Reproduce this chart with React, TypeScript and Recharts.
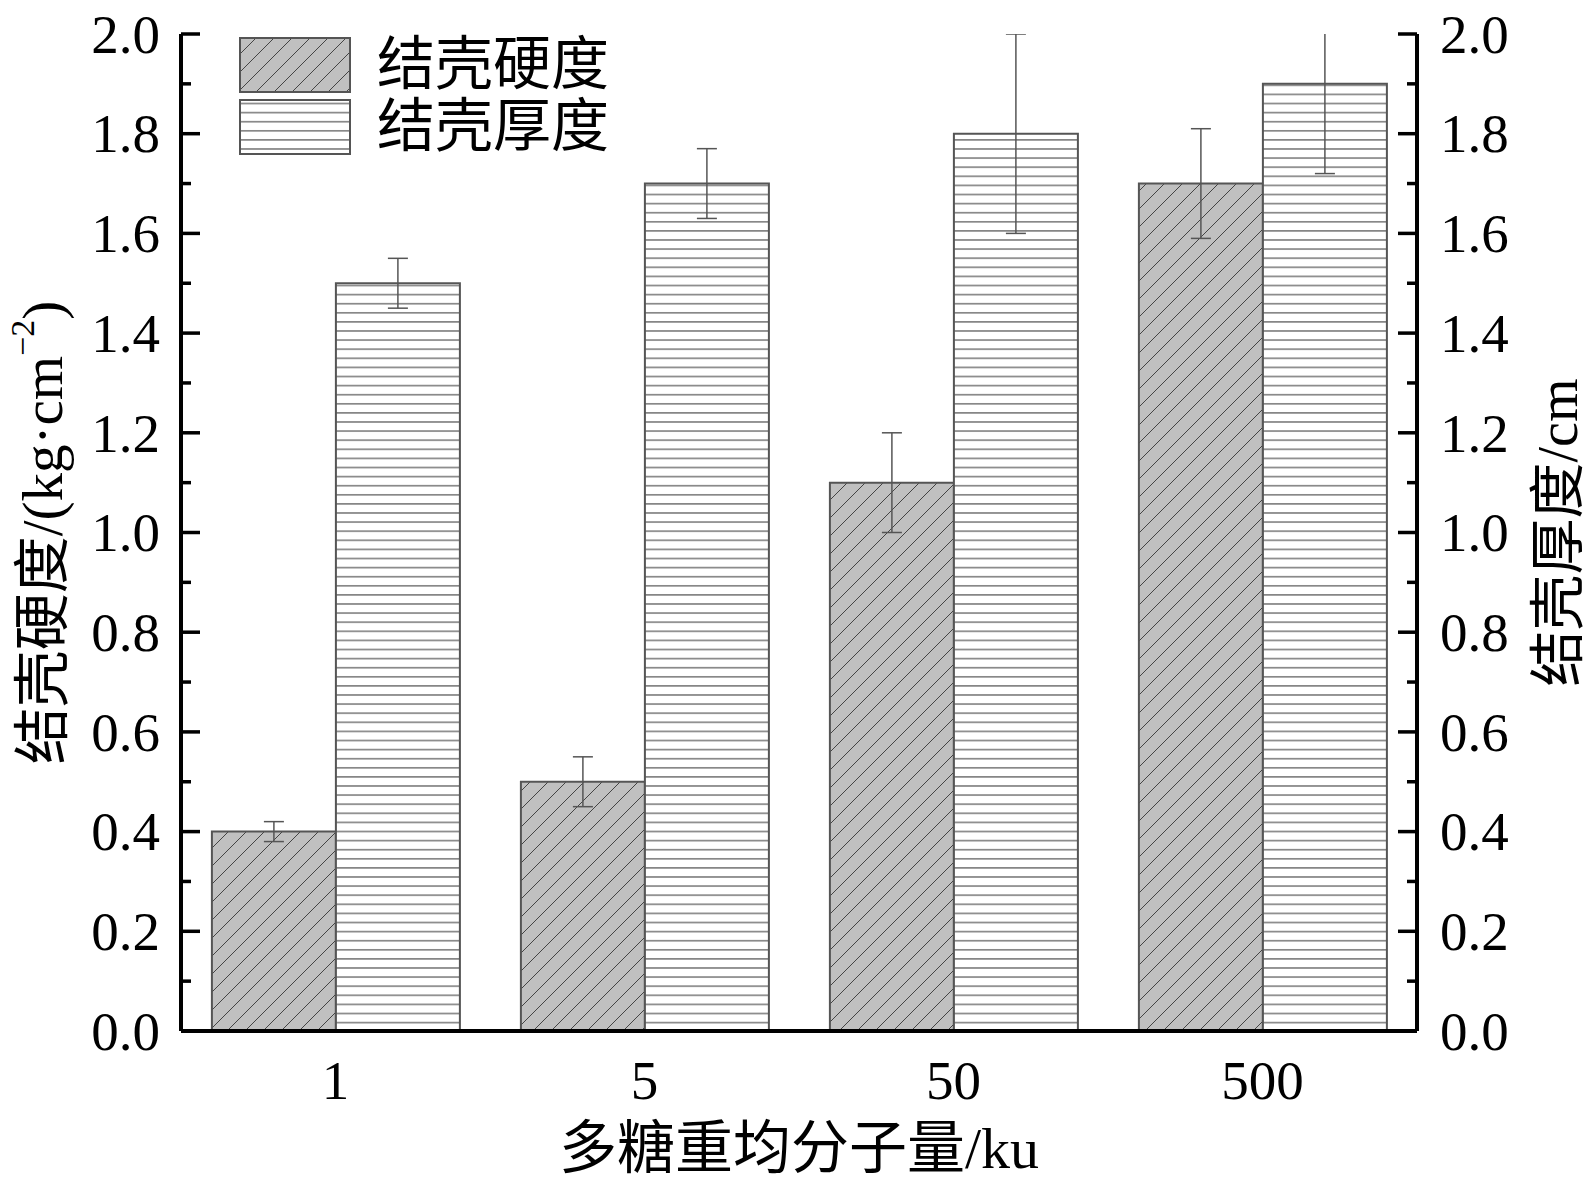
import React from 'react';
import { BarChart, Bar, XAxis, YAxis, ErrorBar, Legend, Label } from 'recharts';

const categories = ['1', '5', '50', '500'];
const hardness = [0.4, 0.5, 1.1, 1.7];
const hardnessErr = [0.02, 0.05, 0.1, 0.11];
const thickness = [1.5, 1.7, 1.8, 1.9];
const thicknessErr = [0.05, 0.07, 0.2, 0.18];
const yTicks = [0, 0.1, 0.2, 0.3, 0.4, 0.5, 0.6, 0.7, 0.8, 0.9, 1.0, 1.1, 1.2, 1.3, 1.4, 1.5, 1.6, 1.7, 1.8, 1.9, 2.0];
const seriesNames = ['结壳硬度', '结壳厚度'];
const xTitle = '多糖重均分子量/ku';
const leftTitle = '结壳硬度/(kg·cm';
const leftTitleSup = '−2';
const rightTitle = '结壳厚度/cm';

const data = categories.map((c, i) => ({
  name: c,
  hardness: hardness[i],
  hardnessErr: hardnessErr[i],
  thickness: thickness[i],
  thicknessErr: thicknessErr[i],
}));

const FONT = "'Liberation Serif', 'Noto Sans CJK SC', serif";
const TICK_FS = 55;
const TITLE_FS = 57;

// layout
const CHART_W = 1587;
const CHART_H = 1179;
const MARGIN_TOP = 26;
const LEFT_AXIS_W = 173;
const RIGHT_AXIS_W = 178;
const X_AXIS_H = 156;
const PLOT = {
  x: LEFT_AXIS_W,
  y: MARGIN_TOP,
  w: CHART_W - LEFT_AXIS_W - RIGHT_AXIS_W,
  h: CHART_H - MARGIN_TOP - X_AXIS_H,
};

const isMajor = (v: number) => Math.round(v * 10) % 2 === 0;

const LeftTick = (props: any) => {
  const { x, y, payload } = props;
  const v = payload.value;
  const major = isMajor(v);
  return (
    <g>
      <line x1={x} x2={x + (major ? 19 : 10)} y1={y} y2={y} stroke="#000" strokeWidth={3.5} />
      {major && (
        <text x={x - 21} y={y} dy="0.34em" textAnchor="end" fontSize={TICK_FS} fontFamily={FONT} fill="#000">
          {v.toFixed(1)}
        </text>
      )}
    </g>
  );
};

const RightTick = (props: any) => {
  const { x, y, payload } = props;
  const v = payload.value;
  const major = isMajor(v);
  return (
    <g>
      <line x1={x} x2={x - (major ? 19 : 10)} y1={y} y2={y} stroke="#000" strokeWidth={3.5} />
      {major && (
        <text x={x + 23} y={y} dy="0.34em" textAnchor="start" fontSize={TICK_FS} fontFamily={FONT} fill="#000">
          {v.toFixed(1)}
        </text>
      )}
    </g>
  );
};

const XTick = (props: any) => {
  const { x, y, payload } = props;
  return (
    <text x={x} y={y + 49} dy="0.34em" textAnchor="middle" fontSize={TICK_FS} fontFamily={FONT} fill="#000">
      {payload.value}
    </text>
  );
};

const LeftTitle = (props: any) => {
  const vb = props.viewBox || { x: 0, y: PLOT.y, width: LEFT_AXIS_W, height: PLOT.h };
  const cx = vb.x + 34;
  const cy = vb.y + vb.height / 2;
  return (
    <text
      x={cx}
      y={cy}
      transform={`rotate(-90, ${cx}, ${cy})`}
      textAnchor="middle"
      dominantBaseline="central"
      fontSize={TITLE_FS}
      fontFamily={FONT}
      fill="#000"
    >
      {leftTitle}
      <tspan dy={-20} fontSize={34}>{leftTitleSup}</tspan>
      <tspan dy={20}>)</tspan>
    </text>
  );
};

const RightTitle = (props: any) => {
  const vb = props.viewBox || { x: PLOT.x + PLOT.w, y: PLOT.y, width: RIGHT_AXIS_W, height: PLOT.h };
  const cx = vb.x + 141;
  const cy = vb.y + vb.height / 2;
  return (
    <text
      x={cx}
      y={cy}
      transform={`rotate(-90, ${cx}, ${cy})`}
      textAnchor="middle"
      dominantBaseline="central"
      fontSize={56}
      fontFamily={FONT}
      fill="#000"
    >
      {rightTitle}
    </text>
  );
};

const XTitle = (props: any) => {
  const vb = props.viewBox || { x: PLOT.x, y: PLOT.y + PLOT.h, width: PLOT.w, height: X_AXIS_H };
  const cx = vb.x + vb.width / 2;
  const cy = vb.y + 117;
  return (
    <text x={cx} y={cy} textAnchor="middle" dominantBaseline="central" fontSize={58} fontFamily={FONT} fill="#000">
      {xTitle}
    </text>
  );
};

const LegendContent = () => (
  <div style={{ display: 'flex', flexDirection: 'column' }}>
    {seriesNames.map((n, i) => (
      <div key={n} style={{ display: 'flex', alignItems: 'flex-start', height: 62 }}>
        <svg width={112} height={56} style={{ display: 'block' }}>
          <rect
            x={1}
            y={1}
            width={110}
            height={54}
            fill={i === 0 ? 'url(#hatchDiag)' : 'url(#hatchHoriz)'}
            stroke="#555"
            strokeWidth={2}
          />
        </svg>
        <span
          style={{
            marginLeft: 26,
            fontSize: 58,
            fontFamily: FONT,
            lineHeight: '55px',
            color: '#000',
            whiteSpace: 'nowrap',
          }}
        >
          {n}
        </span>
      </div>
    ))}
  </div>
);

export default function App() {
  return (
    <div style={{ width: CHART_W, height: CHART_H }}>
      <BarChart
        width={CHART_W}
        height={CHART_H}
        data={data}
        margin={{ top: MARGIN_TOP, right: 0, bottom: 0, left: 0 }}
        barCategoryGap="10%"
        barGap={0}
      >
        <defs>
          <pattern id="hatchDiag" patternUnits="userSpaceOnUse" width={18} height={18}>
            <rect x={0} y={0} width={18} height={18} fill="#c0c0c0" />
            <path d="M0,18 L18,0 M-4.5,4.5 L4.5,-4.5 M13.5,22.5 L22.5,13.5" stroke="#444" strokeWidth={1} />
          </pattern>
          <pattern id="hatchHoriz" patternUnits="userSpaceOnUse" width={18} height={9.1}>
            <rect x={0} y={0} width={18} height={9.1} fill="#fff" />
            <line x1={0} x2={18} y1={4.5} y2={4.5} stroke="#555" strokeWidth={1.2} />
          </pattern>
          <clipPath id="plotAreaClip">
            <rect x={PLOT.x} y={PLOT.y} width={PLOT.w} height={PLOT.h} />
          </clipPath>
        </defs>
        <XAxis
          dataKey="name"
          axisLine={{ stroke: '#000', strokeWidth: 4 }}
          tickLine={false}
          tickSize={0}
          tickMargin={0}
          tick={<XTick />}
          height={X_AXIS_H}
          interval={0}
        >
          <Label content={<XTitle />} />
        </XAxis>
        <YAxis
          yAxisId="left"
          orientation="left"
          domain={[0, 2]}
          allowDataOverflow
          ticks={yTicks}
          interval={0}
          width={LEFT_AXIS_W}
          axisLine={{ stroke: '#000', strokeWidth: 4 }}
          tickLine={false}
          tickSize={0}
          tickMargin={0}
          tick={<LeftTick />}
        >
          <Label content={<LeftTitle />} />
        </YAxis>
        <YAxis
          yAxisId="right"
          orientation="right"
          domain={[0, 2]}
          allowDataOverflow
          ticks={yTicks}
          interval={0}
          width={RIGHT_AXIS_W}
          axisLine={{ stroke: '#000', strokeWidth: 4 }}
          tickLine={false}
          tickSize={0}
          tickMargin={0}
          tick={<RightTick />}
        >
          <Label content={<RightTitle />} />
        </YAxis>
        <Legend
          layout="vertical"
          align="center"
          verticalAlign="middle"
          content={<LegendContent />}
          wrapperStyle={{ position: 'absolute', top: 29, left: 231, width: 'auto', margin: 0 }}
        />
        <Bar
          dataKey="hardness"
          name={seriesNames[0]}
          yAxisId="left"
          fill="url(#hatchDiag)"
          stroke="#555"
          strokeWidth={2}
          isAnimationActive={false}
        >
          <ErrorBar
            dataKey="hardnessErr"
            width={10}
            stroke="#555"
            strokeWidth={1.5}
            clipPath="url(#plotAreaClip)"
          />
        </Bar>
        <Bar
          dataKey="thickness"
          name={seriesNames[1]}
          yAxisId="right"
          fill="url(#hatchHoriz)"
          stroke="#555"
          strokeWidth={2}
          isAnimationActive={false}
        >
          <ErrorBar
            dataKey="thicknessErr"
            width={10}
            stroke="#555"
            strokeWidth={1.5}
            clipPath="url(#plotAreaClip)"
          />
        </Bar>
      </BarChart>
    </div>
  );
}
